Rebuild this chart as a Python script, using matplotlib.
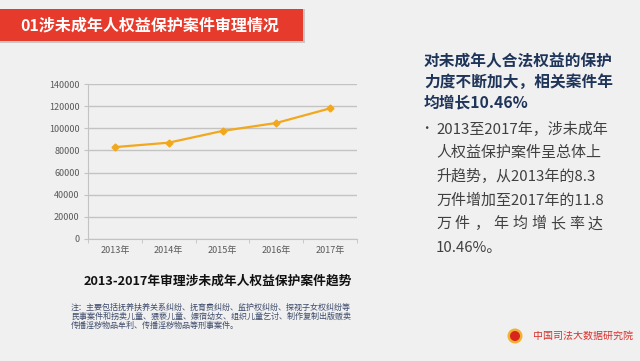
import numpy as np
import matplotlib as mpl
mpl.use('Agg')
import matplotlib.pyplot as plt
from matplotlib.patches import Rectangle, Ellipse

# ---- data
years  = ['2013年', '2014年', '2015年', '2016年', '2017年']
cases  = [83000, 87000, 97600, 104800, 118000]
yticks = [0, 20000, 40000, 60000, 80000, 100000, 120000, 140000]

banner_txt = '01涉未成年人权益保护案件审理情况'
head_lines = ['对未成年人合法权益的保护', '力度不断加大，相关案件年', '均增长10.46%']
body_lines = ['2013至2017年，涉未成年', '人权益保护案件呈总体上', '升趋势，从2013年的8.3',
              '万件增加至2017年的11.8', '万件，年均增长率达', '10.46%。']
chart_ttl  = '2013-2017年审理涉未成年人权益保护案件趋势'
note_lines = ['注：主要包括抚养扶养关系纠纷、抚育费纠纷、监护权纠纷、探视子女权纠纷等',
              '民事案件和拐卖儿童、猥亵儿童、嫖宿幼女、组织儿童乞讨、制作复制出版贩卖',
              '传播淫秽物品牟利、传播淫秽物品等刑事案件。']
logo_txt   = '中国司法大数据研究院'

W, H = 640., 361.
bg = '#f0f0f0'
clr_line = '#f2a81d'
clr_grid = '#c3c3c3'
cjk = ['Noto Sans CJK SC', 'DejaVu Sans']
plt.rcParams['font.family'] = cjk

def fx(x): return x/W
def fy(y): return 1. - y/H

fig = plt.figure(figsize=(6.4, 3.61), dpi=100, facecolor=bg)

# banner with a soft shadow
fig.patches.append(Rectangle((fx(0), fy(43)), fx(305), 34/H, transform=fig.transFigure,
                             facecolor='#c8c8c8', edgecolor='none', zorder=0))
fig.patches.append(Rectangle((fx(0), fy(41)), fx(303), 32/H, transform=fig.transFigure,
                             facecolor='#e53a2c', edgecolor='none', zorder=1))
fig.text(fx(150), fy(25.5), banner_txt, color='w', fontsize=11.5, fontweight='bold',
         ha='center', va='center', zorder=2)

# ---- line chart
ax = fig.add_axes([fx(88), fy(239), fx(357)-fx(88), (239-84)/H], facecolor=bg)
xx = np.arange(len(years))
ax.plot(xx, cases, color=clr_line, lw=1.6, marker='D', ms=3.5, zorder=3)
ax.set_xlim(-0.5, len(years)-0.5)
ax.set_ylim(0, 140000)
ax.set_yticks(yticks)
ax.set_yticklabels([str(v) for v in yticks])
ax.set_xticks(xx)
ax.set_xticklabels(years)
ax.set_xticks(np.arange(-0.5, len(years)), minor=True)
ax.tick_params(axis='x', which='major', length=0, pad=5)
ax.tick_params(axis='x', which='minor', length=3, color=clr_grid, direction='out')
ax.tick_params(axis='y', length=3, color=clr_grid, pad=3)
ax.tick_params(labelsize=6.5, labelcolor='#595959')
ax.grid(axis='y', color=clr_grid, lw=1.0)
ax.set_axisbelow(True)
for s in ['top', 'right']:
    ax.spines[s].set_visible(False)
ax.spines['left'].set_color(clr_grid)
ax.spines['bottom'].set_color(clr_grid)

fig.text(fx(218), fy(281), chart_ttl, fontsize=9.2, fontweight='bold', color='#111111',
         ha='center', va='center')
for i, ln in enumerate(note_lines):
    fig.text(fx(71), fy(307 + 9*i), ln, fontsize=5.8, color='#3d4b6b', ha='left', va='center')

# ---- right text block
for i, ln in enumerate(head_lines):
    fig.text(fx(424), fy(61 + 20.5*i), ln, fontsize=11.3, fontweight='bold', color='#1f3459',
             ha='left', va='center')

clr_body = '#404040'
fig.text(fx(426), fy(129), '•', fontsize=9, color=clr_body, ha='center', va='center')
for i, ln in enumerate(body_lines):
    yl = fy(129 + 23.8*i)
    if i == 4:
        # justified line, characters spread over the full width
        xs = np.linspace(436, 588, len(ln))
        for xc, ch in zip(xs, ln):
            fig.text(fx(xc), yl, ch, fontsize=10.8, color=clr_body, ha='left', va='center')
    else:
        fig.text(fx(436), yl, ln, fontsize=10.8, color=clr_body, ha='left', va='center')

# ---- logo
fig.patches.append(Ellipse((fx(515), fy(336)), 15/W, 15/H, transform=fig.transFigure,
                           facecolor='#f2b134', edgecolor='none', zorder=2))
fig.patches.append(Ellipse((fx(515), fy(336)), 10/W, 10/H, transform=fig.transFigure,
                           facecolor='#d8261c', edgecolor='none', zorder=3))
fig.text(fx(533), fy(336), logo_txt, fontsize=7.2, color='#d8302a', ha='left', va='center')

plt.savefig('out.png', dpi=100, facecolor=bg)
plt.close(fig)
